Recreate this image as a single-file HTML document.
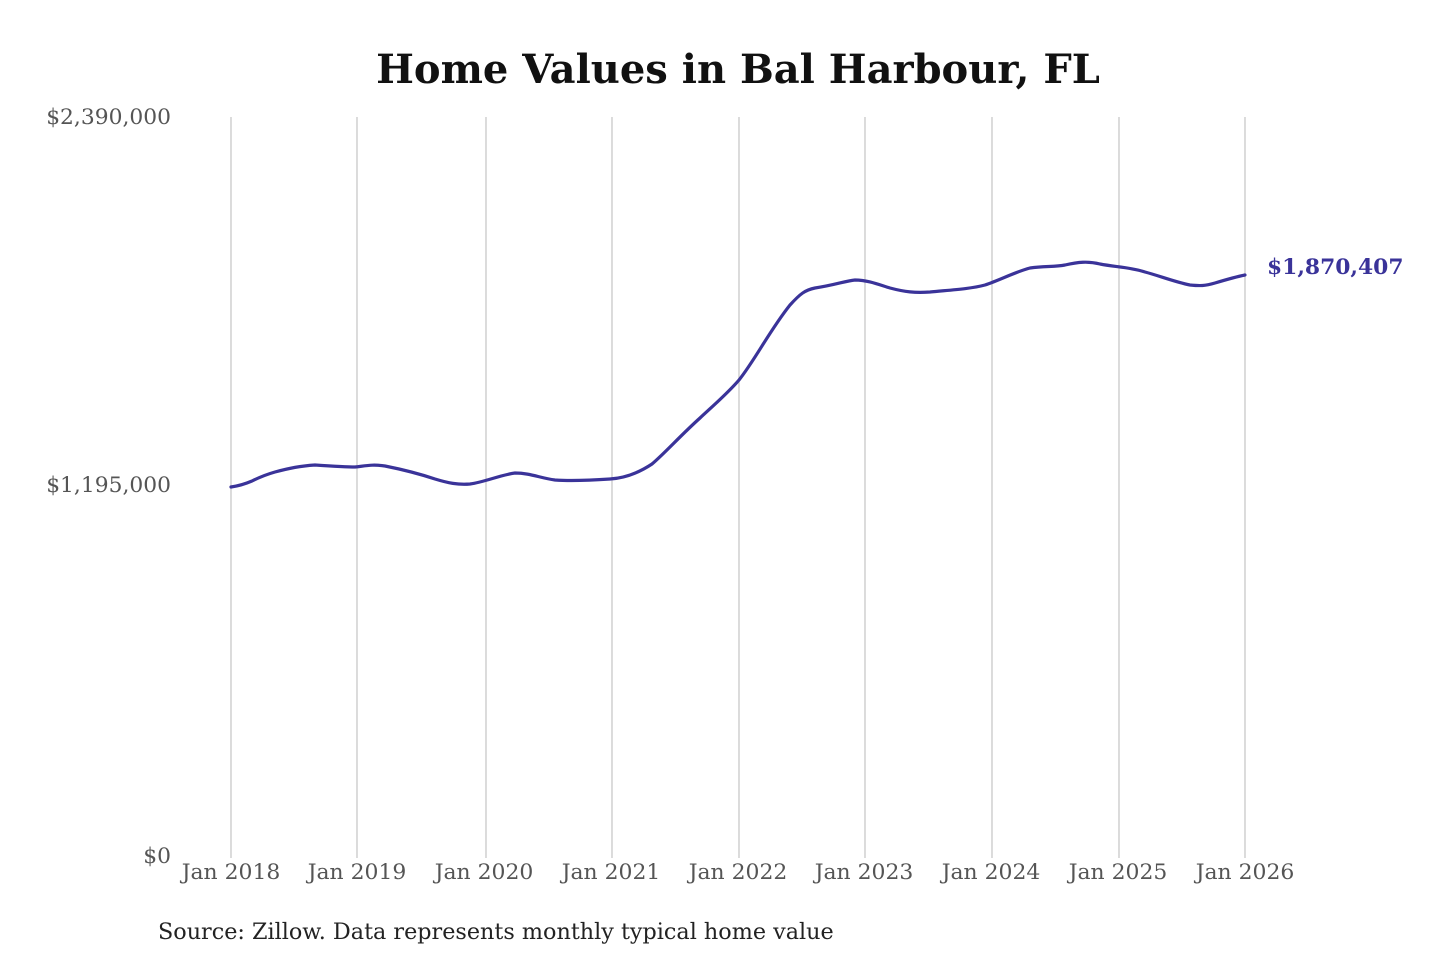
<!DOCTYPE html>
<html><head><meta charset="utf-8"><style>
html,body{margin:0;padding:0;background:#fff;}
svg{display:block;}
</style></head><body>
<svg width="1440" height="960" viewBox="0 0 1440 960" xmlns="http://www.w3.org/2000/svg">
<rect width="1440" height="960" fill="#fff"/>
<text x="738" y="83" text-anchor="middle" font-family="DejaVu Serif, serif" font-weight="bold" font-size="40" fill="#111">Home Values in Bal Harbour, FL</text>
<g stroke="#c8c8c8" stroke-width="1.3">
<line x1="231" y1="117" x2="231" y2="858"/>
<line x1="357" y1="117" x2="357" y2="858"/>
<line x1="486" y1="117" x2="486" y2="858"/>
<line x1="612" y1="117" x2="612" y2="858"/>
<line x1="739" y1="117" x2="739" y2="858"/>
<line x1="865" y1="117" x2="865" y2="858"/>
<line x1="992" y1="117" x2="992" y2="858"/>
<line x1="1119" y1="117" x2="1119" y2="858"/>
<line x1="1245" y1="117" x2="1245" y2="858"/>
</g>
<g font-family="DejaVu Serif, serif" font-size="21.8" fill="#555" text-anchor="end">
<text x="171" y="124">$2,390,000</text>
<text x="171" y="492">$1,195,000</text>
<text x="171" y="863">$0</text>
</g>
<g font-family="DejaVu Serif, serif" font-size="21.9" fill="#555" text-anchor="middle">
<text x="231" y="879">Jan 2018</text>
<text x="357" y="879">Jan 2019</text>
<text x="484" y="879">Jan 2020</text>
<text x="611" y="879">Jan 2021</text>
<text x="738" y="879">Jan 2022</text>
<text x="864" y="879">Jan 2023</text>
<text x="991" y="879">Jan 2024</text>
<text x="1118" y="879">Jan 2025</text>
<text x="1245" y="879">Jan 2026</text>
</g>
<path fill="none" stroke="#3a3399" stroke-width="3.2" stroke-linejoin="round" stroke-linecap="round"
d="M231,487 C238,486 245,484 252,481 C260,477 268,474 275,472 C290,468 300,466 315,465 C330,466 345,467 355,467 C365,466 372,464 385,466 C400,469 420,474 435,479 C448,483 458,485 470,484 C485,482 500,475 515,473 C530,473 540,478 555,480 C570,481 595,480 610,479 C625,478 640,472 652,464 C665,453 680,436 700,418 C715,404 728,393 739,380 C755,360 770,330 790,305 C800,294 805,290 815,288 C835,285 845,281 855,280 C868,280 880,285 890,288 C905,292 915,293 930,292 C950,290 970,289 985,285 C1000,280 1015,272 1030,268 C1045,266 1055,267 1065,265 C1078,262 1088,261 1100,264 C1115,267 1130,267 1145,272 C1160,276 1175,282 1190,285 C1200,286 1205,286 1215,283 C1225,280 1235,277 1245,275"/>
<text x="1267" y="274" font-family="DejaVu Serif, serif" font-weight="bold" font-size="21.8" fill="#3a3399">$1,870,407</text>
<text x="158" y="939" font-family="DejaVu Serif, serif" font-size="22.3" fill="#222">Source: Zillow. Data represents monthly typical home value</text>
</svg>
</body></html>
